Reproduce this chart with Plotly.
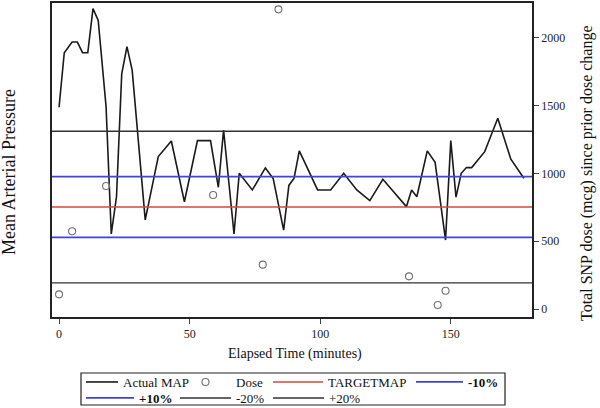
import plotly.graph_objects as go

# ---- data ----
map_time = [0, 2, 5, 7, 9, 11, 13, 15, 18, 20, 22, 24, 26, 28, 33, 38, 43, 48, 53, 58,
            61, 63, 67, 69, 74, 79, 82, 86, 88, 90, 92, 99, 104, 109, 114, 119, 124, 133,
            135, 137, 141, 144, 148, 150, 152, 154, 156, 158, 163, 168, 173, 178]
map_values = [106.3, 120.7, 123.5, 123.5, 120.7, 120.7, 132.3, 129.2, 106.5, 72.9, 82.7,
              115.1, 122.3, 116.1, 76.6, 93.3, 97.4, 81.4, 97.5, 97.5, 85.2, 100.3, 72.9,
              88.9, 84.5, 90.3, 87.5, 73.9, 85.7, 87.6, 94.8, 84.5, 84.5, 88.9, 84.5, 81.7,
              87.3, 80.1, 84.5, 82.7, 94.8, 91.8, 71.3, 97.5, 82.6, 88.9, 90.4, 90.4, 94.6,
              103.4, 92.6, 87.6]

dose_time = [0, 5, 18, 59, 78, 84, 134, 145, 148]
dose_values = [108, 573, 907, 841, 327, 2210, 241, 30, 135]

target_map = 80
minus10 = 72
plus10 = 88
minus20 = 60
plus20 = 100

x_range = [-2.7, 181.1]
map_range = [51.0, 133.8]
dose_range = [-59, 2257]
x_ticks = [0, 50, 100, 150]
dose_ticks = [0, 500, 1000, 1500, 2000]

FONT = "Liberation Serif, Times New Roman, serif"
W, H = 600, 408
ML, MR, MT, MB = 52, 68, 3, 91
PW, PH = W - ML - MR, H - MT - MB


def px_x(px):
    return (px - ML) / PW


def px_y(py):
    return (H - MB - py) / PH


fig = go.Figure()
fig.add_trace(go.Scatter(x=map_time, y=map_values, mode="lines", name="Actual MAP",
                         line=dict(color="#1a1a1a", width=1.6), yaxis="y", legend="legend"))
fig.add_trace(go.Scatter(x=dose_time, y=dose_values, mode="markers", name="Dose",
                         marker=dict(symbol="circle-open", size=7, color="#707070",
                                     line=dict(width=1.1)), yaxis="y2", legend="legend2"))

ref_lines = [
    ("TARGETMAP", target_map, "#d24a3c", 1.4, "legend3"),
    ("<b>-10%</b>", minus10, "#4242dc", 1.8, "legend4"),
    ("<b>+10%</b>", plus10, "#4242dc", 1.8, "legend5"),
    ("-20%", minus20, "#333333", 1.4, "legend6"),
    ("+20%", plus20, "#333333", 1.4, "legend7"),
]
for name, val, color, w, lg in ref_lines:
    fig.add_trace(go.Scatter(x=x_range, y=[val, val], mode="lines", name=name,
                             line=dict(color=color, width=w), yaxis="y", legend=lg))

# legend slots: (line start px, row centre px, symbol width)
slots = {
    "legend": (86, 382, 32),
    "legend2": (180, 382, 51),
    "legend3": (273, 382, 50),
    "legend4": (416, 382, 47),
    "legend5": (86, 398, 48),
    "legend6": (180, 398, 51),
    "legend7": (273, 398, 51),
}
legend_layout = {}
for key, (lx, ly, iw) in slots.items():
    legend_layout[key] = dict(
        x=px_x(lx - 5), y=px_y(ly), xanchor="left", yanchor="middle",
        xref="paper", yref="paper", orientation="v",
        bgcolor="rgba(0,0,0,0)", borderwidth=0, itemwidth=iw,
        font=dict(family=FONT, size=13, color="#111111"),
    )

fig.update_layout(
    width=W, height=H,
    margin=dict(l=ML, r=MR, t=MT, b=MB, autoexpand=False),
    paper_bgcolor="white", plot_bgcolor="white",
    font=dict(family=FONT, size=13, color="#111111"),
    showlegend=True,
    xaxis=dict(range=x_range, tickvals=x_ticks, ticks="outside", ticklen=5,
               showline=True, linecolor="#222222", linewidth=1.5, mirror=True,
               showgrid=False, zeroline=False, automargin=False,
               tickfont=dict(family=FONT, size=12, color="#222222")),
    yaxis=dict(range=map_range, showticklabels=False, ticks="", showgrid=False,
               zeroline=False, showline=True, linecolor="#222222", linewidth=1.5,
               automargin=False),
    yaxis2=dict(range=dose_range, overlaying="y", side="right", tickvals=dose_ticks,
                ticks="outside", ticklen=5, showgrid=False, zeroline=False,
                showline=True, linecolor="#222222", linewidth=1.5, automargin=False,
                tickfont=dict(family=FONT, size=12, color="#222222")),
    shapes=[dict(type="rect", xref="paper", yref="paper",
                 x0=px_x(81), x1=px_x(505), y0=px_y(405), y1=px_y(373),
                 line=dict(color="#222222", width=1.2), fillcolor="rgba(0,0,0,0)")],
    annotations=[
        dict(text="Elapsed Time (minutes)", xref="paper", yref="paper",
             x=px_x(295), y=px_y(354), xanchor="center", yanchor="middle",
             showarrow=False, font=dict(family=FONT, size=14, color="#111111")),
        dict(text="Mean Arterial Pressure", xref="paper", yref="paper",
             x=px_x(9), y=px_y(172), xanchor="center", yanchor="middle", textangle=-90,
             showarrow=False, font=dict(family=FONT, size=18, color="#111111")),
        dict(text="Total SNP dose (mcg) since prior dose change", xref="paper", yref="paper",
             x=px_x(587), y=px_y(173), xanchor="center", yanchor="middle", textangle=-90,
             showarrow=False, font=dict(family=FONT, size=16, color="#111111")),
    ],
    **legend_layout,
)

fig.write_html("out.html", config={"displayModeBar": False},
               post_script="document.body.style.margin='0px';document.body.style.overflow='hidden';")
